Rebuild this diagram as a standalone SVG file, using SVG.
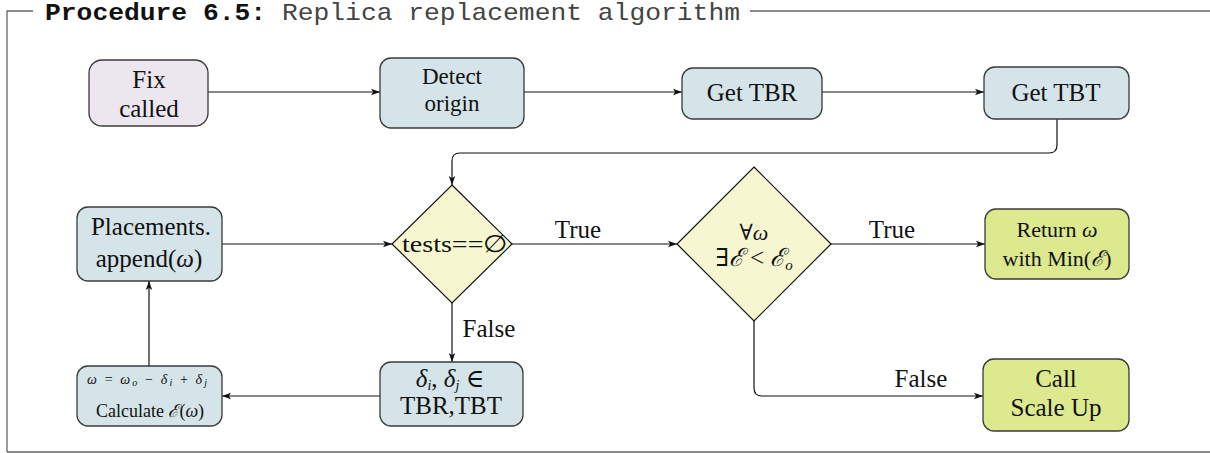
<svg xmlns="http://www.w3.org/2000/svg" width="1210" height="453" viewBox="0 0 1210 453">
<style>
.frame{fill:none;stroke:#666;stroke-width:1.3}
.box{stroke:#3a3a3a;stroke-width:1.3}
.blue{fill:#d4e4e8}
.lav{fill:#ece6ee}
.green{fill:#dde98f}
.dia{fill:#f6f7d1;stroke:#111;stroke-width:1.2}
.t{font-family:"Liberation Serif","DejaVu Serif",serif;fill:#111;text-anchor:middle}
.m{font-style:italic}
.c{fill:none;stroke:#111;stroke-width:1.2}
.title{font-family:"Liberation Mono","DejaVu Sans Mono",monospace;font-size:24px}
</style>
<defs>
<marker id="ah" markerUnits="userSpaceOnUse" markerWidth="10" markerHeight="8" refX="9" refY="4" orient="auto">
<path d="M0,0.8 L9,4 L0,7.2 L2.2,4 z" fill="#111"/>
</marker>
</defs>
<rect width="1210" height="453" fill="#fff"/>
<g id="frame">
<path class="frame" d="M7,452 V11 H33 M750,11 H1210 M7,452 H1210"/>
<text class="title" x="45" y="20" textLength="695" lengthAdjust="spacingAndGlyphs"><tspan font-weight="bold" fill="#111">Procedure 6.5:</tspan><tspan fill="#444"> Replica replacement algorithm</tspan></text>
</g>
<g id="connectors">
<path class="c" marker-end="url(#ah)" d="M208,92 H380"/>
<path class="c" marker-end="url(#ah)" d="M524,92 H682"/>
<path class="c" marker-end="url(#ah)" d="M822,92 H984"/>
<path class="c" marker-end="url(#ah)" d="M1057,119 V145 Q1057,153 1049,153 H460 Q452,153 452,161 V185"/>
<path class="c" marker-end="url(#ah)" d="M222,244 H392"/>
<path class="c" marker-end="url(#ah)" d="M512,244 H677"/>
<path class="c" marker-end="url(#ah)" d="M831,244 H985"/>
<path class="c" marker-end="url(#ah)" d="M452,303 V362"/>
<path class="c" marker-end="url(#ah)" d="M754,321 V388 Q754,396 762,396 H983"/>
<path class="c" marker-end="url(#ah)" d="M380,396 H222"/>
<path class="c" marker-end="url(#ah)" d="M149,366 V281"/>
<text class="t" x="578" y="238" font-size="25">True</text>
<text class="t" x="892" y="238" font-size="25">True</text>
<text class="t" x="489" y="337" font-size="25">False</text>
<text class="t" x="921" y="387" font-size="25">False</text>
</g>
<g id="fix">
<rect class="box lav" x="89" y="60" width="119" height="66" rx="13"/>
<text class="t" x="149" y="88" font-size="25">Fix</text>
<text class="t" x="149" y="117" font-size="25">called</text>
</g>
<g id="detect">
<rect class="box blue" x="380" y="58" width="144" height="70" rx="11"/>
<text class="t" x="452" y="84" font-size="23">Detect</text>
<text class="t" x="452" y="111" font-size="23">origin</text>
</g>
<g id="tbr">
<rect class="box blue" x="682" y="68" width="140" height="51" rx="11"/>
<text class="t" x="752" y="101" font-size="25">Get TBR</text>
</g>
<g id="tbt">
<rect class="box blue" x="984" y="67" width="145" height="52" rx="11"/>
<text class="t" x="1056" y="101" font-size="25">Get TBT</text>
</g>
<g id="placements">
<rect class="box blue" x="77" y="207" width="145" height="74" rx="11"/>
<text class="t" x="151" y="235" font-size="25">Placements.</text>
<text class="t" x="149" y="267" font-size="25">append(<tspan class="m">ω</tspan>)</text>
</g>
<g id="tests">
<polygon class="dia" points="452,185 512,244 452,303 392,244"/>
<text class="t" x="455" y="252" font-size="24" textLength="106" lengthAdjust="spacingAndGlyphs">tests==∅</text>
</g>
<g id="exists">
<polygon class="dia" points="754,167 831,244 754,321 677,244"/>
<text class="t" x="754" y="240" font-size="22">∀<tspan class="m">ω</tspan></text>
<text class="t" x="754" y="266" font-size="25">∃<tspan class="m">ℰ</tspan> &lt; <tspan class="m">ℰ<tspan font-size="15" dy="4">o</tspan></tspan></text>
</g>
<g id="return">
<rect class="box green" x="985" y="209" width="144" height="70" rx="11"/>
<text class="t" x="1057" y="237" font-size="22">Return <tspan class="m">ω</tspan></text>
<text class="t" x="1057" y="266" font-size="22">with Min(<tspan class="m">ℰ</tspan>)</text>
</g>
<g id="scaleup">
<rect class="box green" x="983" y="359" width="146" height="72" rx="11"/>
<text class="t" x="1056" y="387" font-size="25">Call</text>
<text class="t" x="1056" y="416" font-size="25">Scale Up</text>
</g>
<g id="delta">
<rect class="box blue" x="380" y="362" width="143" height="64" rx="11"/>
<text class="t" x="450" y="387" font-size="25"><tspan class="m">δ</tspan><tspan font-size="14" dy="3" class="m">i</tspan><tspan dy="-3">, </tspan><tspan class="m">δ</tspan><tspan font-size="14" dy="3" class="m">j</tspan><tspan dy="-3">  ∈</tspan></text>
<text class="t" x="451" y="414" font-size="25">TBR,TBT</text>
</g>
<g id="calculate">
<rect class="box blue" x="77" y="366" width="145" height="60" rx="11"/>
<text class="t" x="147" y="384" font-size="14" textLength="120" lengthAdjust="spacing"><tspan class="m">ω</tspan> = <tspan class="m">ω</tspan><tspan class="m" font-size="10" dy="2">o</tspan><tspan dy="-2"> − </tspan><tspan class="m">δ</tspan><tspan class="m" font-size="10" dy="2">i</tspan><tspan dy="-2"> + </tspan><tspan class="m">δ</tspan><tspan class="m" font-size="10" dy="2">j</tspan></text>
<text class="t" x="150" y="417" font-size="18">Calculate  <tspan class="m">ℰ</tspan>(<tspan class="m">ω</tspan>)</text>
</g>
</svg>
